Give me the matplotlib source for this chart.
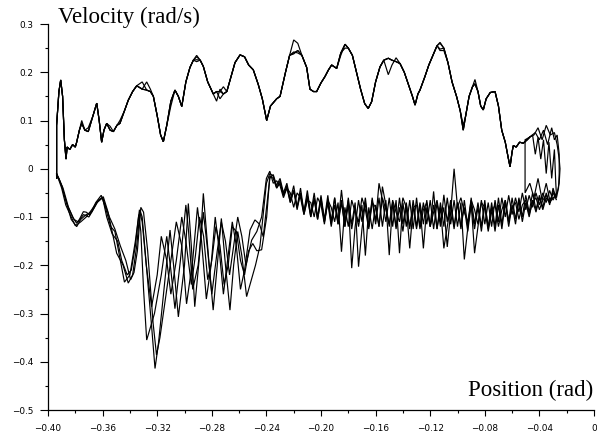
import matplotlib
matplotlib.use("Agg")
import matplotlib.pyplot as plt

# ---------------- data ----------------
x_ticks = [-0.40, -0.36, -0.32, -0.28, -0.24, -0.20, -0.16, -0.12, -0.08, -0.04, 0.0]
x_tick_labels = ["\u22120.40", "\u22120.36", "\u22120.32", "\u22120.28", "\u22120.24", "\u22120.20",
                 "\u22120.16", "\u22120.12", "\u22120.08", "\u22120.04", "0"]
x_minor = [-0.38, -0.34, -0.30, -0.26, -0.22, -0.18, -0.14, -0.10, -0.06, -0.02]
y_ticks = [-0.5, -0.4, -0.3, -0.2, -0.1, 0.0, 0.1, 0.2, 0.3]
y_tick_labels = ["\u22120.5", "\u22120.4", "\u22120.3", "\u22120.2", "\u22120.1", "0", "0.1", "0.2", "0.3"]
y_minor = [-0.45, -0.35, -0.25, -0.15, -0.05, 0.05, 0.15, 0.25]

# upper branch (shared positions, common velocity path)
upper_x = [-0.3937, -0.3937, -0.3920, -0.3907, -0.3893, -0.3880, -0.3868, -0.3860, -0.3840, -0.3820,
           -0.3800, -0.3790, -0.3770, -0.3753, -0.3730, -0.3705, -0.3670, -0.3643, -0.3625, -0.3607,
           -0.3590, -0.3570, -0.3545, -0.3521, -0.3495, -0.3473, -0.3440, -0.3412, -0.3380, -0.3350,
           -0.3310, -0.3277, -0.3250, -0.3228, -0.3200, -0.3175, -0.3155, -0.3130, -0.3100, -0.3070,
           -0.3045, -0.3020, -0.2990, -0.2960, -0.2935, -0.2911, -0.2885, -0.2862, -0.2830, -0.2789,
           -0.2765, -0.2740, -0.2715, -0.2690, -0.2660, -0.2630, -0.2593, -0.2560, -0.2530, -0.2496,
           -0.2460, -0.2430, -0.2398, -0.2370, -0.2325, -0.2300, -0.2260, -0.2230, -0.2200, -0.2170,
           -0.2140, -0.2105, -0.2081, -0.2055, -0.2032, -0.2000, -0.1971, -0.1945, -0.1922, -0.1885,
           -0.1855, -0.1824, -0.1800, -0.1770, -0.1740, -0.1710, -0.1680, -0.1654, -0.1629, -0.1600,
           -0.1568, -0.1540, -0.1507, -0.1480, -0.1450, -0.1421, -0.1390, -0.1360, -0.1330, -0.1311,
           -0.1290, -0.1275, -0.1240, -0.1210, -0.1177, -0.1150, -0.1128, -0.1100, -0.1070, -0.1040,
           -0.1006, -0.0980, -0.0958, -0.0940, -0.0915, -0.0890, -0.0872, -0.0850, -0.0830, -0.0811,
           -0.0790, -0.0760, -0.0725, -0.0700, -0.0676, -0.0650, -0.0630, -0.0615, -0.0600, -0.0591,
           -0.0570, -0.0545, -0.0518, -0.0490, -0.0469]
upper_v = [-0.02, 0.09, 0.16, 0.184, 0.15, 0.06, 0.02, 0.045, 0.04, 0.05,
           0.045, 0.055, 0.08, 0.094, 0.08, 0.077, 0.11, 0.136, 0.10, 0.055,
           0.08, 0.094, 0.08, 0.077, 0.09, 0.094, 0.12, 0.142, 0.16, 0.172,
           0.165, 0.163, 0.16, 0.15, 0.11, 0.07, 0.056, 0.09, 0.14, 0.163,
           0.15, 0.129, 0.18, 0.21, 0.225, 0.232, 0.225, 0.212, 0.18, 0.155,
           0.16, 0.16, 0.155, 0.16, 0.19, 0.22, 0.236, 0.232, 0.215, 0.205,
           0.175, 0.145, 0.10, 0.13, 0.145, 0.15, 0.20, 0.235, 0.245, 0.245,
           0.235, 0.21, 0.165, 0.16, 0.16, 0.178, 0.191, 0.205, 0.215, 0.208,
           0.24, 0.258, 0.25, 0.235, 0.20, 0.165, 0.135, 0.125, 0.139, 0.18,
           0.211, 0.225, 0.229, 0.225, 0.222, 0.218, 0.20, 0.175, 0.15, 0.132,
           0.155, 0.163, 0.19, 0.215, 0.237, 0.255, 0.26, 0.25, 0.22, 0.18,
           0.149, 0.12, 0.08, 0.11, 0.15, 0.17, 0.176, 0.16, 0.13, 0.122,
           0.145, 0.158, 0.16, 0.13, 0.08, 0.055, 0.025, 0.004, 0.035, 0.048,
           0.045, 0.055, 0.053, 0.06, 0.066]

# where individual runs leave the common upper path
upper_t1 = {-0.2200: 0.267, -0.2170: 0.26, -0.1128: 0.262, -0.2911: 0.235, -0.3277: 0.18, -0.3250: 0.165,
            -0.3705: 0.085, -0.3473: 0.10}
upper_t2 = {-0.1507: 0.195, -0.1480: 0.215, -0.1450: 0.23, -0.2200: 0.238, -0.1128: 0.245,
            -0.1100: 0.245, -0.3310: 0.18, -0.2765: 0.14, -0.2740: 0.165, -0.3753: 0.10}
upper_t3 = {-0.2200: 0.24, -0.1128: 0.248, -0.1824: 0.25, -0.2911: 0.222, -0.3100: 0.13,
            -0.0872: 0.185, -0.2715: 0.17, -0.3545: 0.088}
upper_t4 = {-0.2200: 0.242, -0.2170: 0.24, -0.2911: 0.226, -0.2740: 0.145, -0.1855: 0.235, -0.0958: 0.09}

# right-hand turnaround (per run)
blob_x1 = [-0.044, -0.041, -0.038, -0.035, -0.032, -0.029, -0.027, -0.0255, -0.0249, -0.0255, -0.027]
blob_v1 = [0.07, 0.085, 0.06, 0.09, 0.07, 0.075, 0.05, 0.02, 0.0, -0.03, -0.05]
blob_x2 = [-0.043, -0.040, -0.037, -0.034, -0.031, -0.029, -0.027, -0.0255, -0.0255, -0.026, -0.0275]
blob_v2 = [0.075, 0.06, 0.08, 0.05, 0.085, 0.06, 0.07, 0.03, -0.01, -0.04, -0.06]
blob_x3 = [-0.045, -0.043, -0.041, -0.039, -0.037, -0.035, -0.033, -0.031, -0.029, -0.028, -0.0275]
blob_v3 = [0.07, 0.03, 0.065, 0.02, 0.06, -0.01, 0.055, -0.02, 0.04, -0.03, -0.055]
blob_x4 = [-0.0505, -0.0505, -0.047, -0.044, -0.041, -0.038, -0.035, -0.032, -0.030, -0.0275]
blob_v4 = [0.06, -0.05, -0.03, -0.06, -0.02, -0.065, -0.03, -0.07, -0.04, -0.065]

# lower branch, noisy right part (shared positions)
lower_x = [-0.0275, -0.0300, -0.0325, -0.0350, -0.0375, -0.0400, -0.0425, -0.0450, -0.0475, -0.0500,
           -0.0525, -0.0550, -0.0575, -0.0600, -0.0625, -0.0650, -0.0675, -0.0700, -0.0725, -0.0750,
           -0.0775, -0.0800, -0.0825, -0.0850, -0.0875, -0.0900, -0.0925, -0.0950, -0.0975, -0.1000,
           -0.1025, -0.1050, -0.1075, -0.1100, -0.1125, -0.1150, -0.1175, -0.1200, -0.1225, -0.1250,
           -0.1275, -0.1300, -0.1325, -0.1350, -0.1375, -0.1400, -0.1425, -0.1450, -0.1475, -0.1500,
           -0.1525, -0.1550, -0.1575, -0.1600, -0.1625, -0.1650, -0.1675, -0.1700, -0.1725, -0.1750,
           -0.1775, -0.1800, -0.1825, -0.1850, -0.1875, -0.1900, -0.1925, -0.1950, -0.1975, -0.2000,
           -0.2025, -0.2050, -0.2075, -0.2100, -0.2125, -0.2150, -0.2175, -0.2200, -0.2225, -0.2250,
           -0.2275, -0.2300, -0.2325, -0.2350, -0.2375]
lower_v1 = [-0.05, -0.065, -0.045, -0.07, -0.05, -0.075, -0.05, -0.08, -0.055, -0.085,
            -0.05, -0.09, -0.06, -0.095, -0.055, -0.10, -0.06, -0.11, -0.065, -0.12,
            -0.07, -0.115, -0.065, -0.12, -0.175, -0.07, -0.12, -0.065, -0.125, -0.07,
            -0.12, -0.065, -0.11, -0.054, -0.12, -0.07, -0.125, -0.065, -0.115, -0.07,
            -0.12, -0.06, -0.125, -0.065, -0.12, -0.07, -0.175, -0.065, -0.12, -0.06,
            -0.11, -0.065, -0.03, -0.11, -0.06, -0.12, -0.07, -0.125, -0.203, -0.07,
            -0.115, -0.06, -0.12, -0.065, -0.11, -0.06, -0.115, -0.065, -0.11, -0.06,
            -0.105, -0.065, -0.10, -0.06, -0.095, -0.05, -0.085, -0.045, -0.07, -0.035,
            -0.055, -0.025, -0.04, -0.015, -0.01]
lower_v2 = [-0.06, -0.045, -0.075, -0.05, -0.08, -0.055, -0.085, -0.05, -0.09, -0.055,
            -0.10, -0.06, -0.105, -0.06, -0.11, -0.065, -0.115, -0.06, -0.12, -0.07,
            -0.125, -0.065, -0.12, -0.07, -0.115, -0.06, -0.125, -0.188, -0.07, -0.12,
            -0.065, -0.115, -0.06, -0.12, -0.07, -0.125, -0.047, -0.12, -0.065, -0.115,
            -0.07, -0.12, -0.065, -0.125, -0.07, -0.115, -0.06, -0.12, -0.07, -0.179,
            -0.065, -0.12, -0.06, -0.115, -0.065, -0.12, -0.06, -0.11, -0.065, -0.12,
            -0.206, -0.065, -0.11, -0.044, -0.115, -0.06, -0.11, -0.055, -0.105, -0.055,
            -0.10, -0.05, -0.095, -0.045, -0.09, -0.04, -0.08, -0.035, -0.065, -0.03,
            -0.05, -0.02, -0.035, -0.012, -0.02]
lower_v3 = [-0.055, -0.06, -0.07, -0.055, -0.065, -0.085, -0.06, -0.07, -0.095, -0.065,
            -0.075, -0.105, -0.07, -0.08, -0.11, -0.065, -0.085, -0.12, -0.075, -0.09,
            -0.13, -0.08, -0.07, -0.115, -0.085, -0.065, -0.11, -0.09, -0.06, -0.08,
            0.0, -0.09, -0.162, -0.08, -0.11, -0.065, -0.09, -0.12, -0.07, -0.085,
            -0.125, -0.075, -0.08, -0.165, -0.08, -0.06, -0.11, -0.09, -0.065, -0.115,
            -0.085, -0.06, -0.12, -0.08, -0.07, -0.125, -0.085, -0.06, -0.11, -0.09,
            -0.065, -0.12, -0.08, -0.172, -0.07, -0.11, -0.08, -0.065, -0.115, -0.075,
            -0.06, -0.10, -0.07, -0.065, -0.095, -0.06, -0.05, -0.08, -0.05, -0.04,
            -0.06, -0.035, -0.025, -0.03, -0.005]
lower_v4 = [-0.065, -0.05, -0.07, -0.06, -0.085, -0.06, -0.09, -0.065, -0.10, -0.07,
            -0.11, -0.065, -0.115, -0.075, -0.12, -0.07, -0.125, -0.075, -0.13, -0.08,
            -0.12, -0.075, -0.13, -0.08, -0.125, -0.075, -0.13, -0.08, -0.12, -0.07,
            -0.125, -0.075, -0.12, -0.165, -0.08, -0.125, -0.075, -0.12, -0.08, -0.165,
            -0.075, -0.125, -0.08, -0.12, -0.075, -0.13, -0.08, -0.125, -0.07, -0.12,
            -0.075, -0.037, -0.12, -0.075, -0.125, -0.08, -0.18, -0.075, -0.12, -0.08,
            -0.125, -0.075, -0.12, -0.07, -0.115, -0.075, -0.12, -0.07, -0.11, -0.065,
            -0.105, -0.06, -0.10, -0.055, -0.09, -0.05, -0.08, -0.045, -0.07, -0.04,
            -0.055, -0.03, -0.04, -0.02, -0.015]

# lower branch, left part (per run)
left_x1 = [-0.2400, -0.2447, -0.2480, -0.2520, -0.2545, -0.2580, -0.2610, -0.2640, -0.2667, -0.2700,
           -0.2730, -0.2760, -0.2790, -0.2825, -0.2862, -0.2890, -0.2925, -0.2950, -0.2972, -0.3000,
           -0.3045, -0.3080, -0.3106, -0.3150, -0.3190, -0.3216, -0.3240, -0.3280, -0.3310, -0.3326,
           -0.3350, -0.3380, -0.3412, -0.3450, -0.3497, -0.3530, -0.3560, -0.3595, -0.3630, -0.3660,
           -0.3692, -0.3720, -0.3741, -0.3770, -0.3790, -0.3820, -0.3863, -0.3900, -0.3920, -0.3937]
left_v1 = [-0.03, -0.16, -0.20, -0.24, -0.265, -0.18, -0.13, -0.20, -0.293, -0.20,
           -0.103, -0.20, -0.293, -0.18, -0.051, -0.18, -0.286, -0.16, -0.072, -0.20,
           -0.307, -0.20, -0.127, -0.25, -0.36, -0.414, -0.33, -0.20, -0.10, -0.086,
           -0.16, -0.22, -0.237, -0.20, -0.175, -0.13, -0.09, -0.058, -0.065, -0.08,
           -0.096, -0.09, -0.089, -0.105, -0.113, -0.10, -0.072, -0.035, -0.02, -0.012]
left_x2 = [-0.2423, -0.2450, -0.2484, -0.2520, -0.2560, -0.2590, -0.2620, -0.2650, -0.2685, -0.2715,
           -0.2745, -0.2775, -0.2805, -0.2840, -0.2875, -0.2905, -0.2940, -0.2985, -0.3020, -0.3060,
           -0.3100, -0.3140, -0.3180, -0.3205, -0.3230, -0.3270, -0.3300, -0.3320, -0.3345, -0.3370,
           -0.3395, -0.3430, -0.3470, -0.3510, -0.3550, -0.3600, -0.3640, -0.3680, -0.3720, -0.3760,
           -0.3800, -0.3830, -0.3870, -0.3900, -0.3925, -0.3937]
left_v2 = [-0.141, -0.115, -0.106, -0.127, -0.21, -0.25, -0.16, -0.11, -0.19, -0.26,
           -0.17, -0.10, -0.20, -0.27, -0.15, -0.08, -0.19, -0.28, -0.16, -0.11,
           -0.19, -0.27, -0.35, -0.386, -0.32, -0.17, -0.09, -0.08, -0.17, -0.215,
           -0.23, -0.19, -0.16, -0.125, -0.10, -0.06, -0.068, -0.085, -0.10, -0.11,
           -0.118, -0.10, -0.075, -0.04, -0.02, -0.015]
left_x3 = [-0.2400, -0.2435, -0.2470, -0.2508, -0.2550, -0.2580, -0.2610, -0.2640, -0.2670, -0.2700,
           -0.2730, -0.2760, -0.2800, -0.2830, -0.2862, -0.2900, -0.2940, -0.2970, -0.2990, -0.3030,
           -0.3070, -0.3100, -0.3130, -0.3170, -0.3220, -0.3277, -0.3300, -0.3320, -0.3335, -0.3360,
           -0.3390, -0.3420, -0.3460, -0.3490, -0.3530, -0.3570, -0.3600, -0.3640, -0.3680, -0.3720,
           -0.3760, -0.3790, -0.3830, -0.3865, -0.3900, -0.3937]
left_v3 = [-0.02, -0.10, -0.13, -0.148, -0.20, -0.14, -0.10, -0.16, -0.22, -0.15,
           -0.11, -0.17, -0.26, -0.17, -0.09, -0.20, -0.25, -0.13, -0.075, -0.19,
           -0.29, -0.21, -0.14, -0.22, -0.30, -0.355, -0.25, -0.13, -0.095, -0.16,
           -0.21, -0.22, -0.19, -0.15, -0.135, -0.10, -0.06, -0.07, -0.09, -0.095,
           -0.105, -0.12, -0.105, -0.07, -0.035, -0.01]
left_x4 = [-0.2398, -0.2435, -0.2470, -0.2500, -0.2530, -0.2560, -0.2590, -0.2620, -0.2650, -0.2680,
           -0.2710, -0.2740, -0.2770, -0.2800, -0.2830, -0.2860, -0.2890, -0.2920, -0.2950, -0.2990,
           -0.3020, -0.3060, -0.3100, -0.3130, -0.3170, -0.3200, -0.3241, -0.3280, -0.3310, -0.3330,
           -0.3360, -0.3400, -0.3440, -0.3470, -0.3510, -0.3540, -0.3580, -0.3610, -0.3650, -0.3700,
           -0.3740, -0.3780, -0.3810, -0.3850, -0.3890, -0.3937]
left_v4 = [-0.10, -0.168, -0.17, -0.155, -0.17, -0.22, -0.19, -0.13, -0.12, -0.20,
           -0.24, -0.16, -0.12, -0.19, -0.23, -0.14, -0.10, -0.18, -0.24, -0.15,
           -0.10, -0.19, -0.26, -0.19, -0.14, -0.22, -0.286, -0.20, -0.11, -0.085,
           -0.15, -0.22, -0.235, -0.19, -0.13, -0.12, -0.08, -0.055, -0.07, -0.10,
           -0.095, -0.11, -0.105, -0.08, -0.04, -0.01]

runs = [
    (upper_t1, blob_x1, blob_v1, lower_v1, left_x1, left_v1),
    (upper_t2, blob_x2, blob_v2, lower_v2, left_x2, left_v2),
    (upper_t3, blob_x3, blob_v3, lower_v3, left_x3, left_v3),
    (upper_t4, blob_x4, blob_v4, lower_v4, left_x4, left_v4),
]

# ---------------- figure ----------------
W, H = 597, 434
fig = plt.figure(figsize=(W / 100, H / 100), dpi=100)
ax = fig.add_axes([48 / W, (H - 410) / H, 546 / W, 386 / H])

for over, bx, bv, lv, lx2, lv2 in runs:
    uv = list(upper_v)
    for xk, vk in over.items():
        uv[upper_x.index(xk)] = vk
    xs = list(upper_x) + bx + lower_x + lx2
    vs = uv + bv + lv + lv2
    ax.plot(xs, vs, color="black", lw=0.85, solid_joinstyle="miter")

ax.set_xlim(-0.40, 0.0)
ax.set_ylim(-0.5, 0.3)
for s in ("top", "right"):
    ax.spines[s].set_visible(False)
for s in ("left", "bottom"):
    ax.spines[s].set_linewidth(0.9)

ax.set_xticks(x_ticks)
ax.set_xticklabels(x_tick_labels)
ax.set_xticks(x_minor, minor=True)
ax.set_yticks(y_ticks)
ax.set_yticklabels(y_tick_labels)
ax.set_yticks(y_minor, minor=True)
ax.tick_params(axis="x", which="major", length=4.3, width=0.8, labelsize=6.4, pad=6)
ax.tick_params(axis="x", which="minor", length=2.2, width=0.8)
ax.tick_params(axis="y", which="major", length=5.8, width=0.8, labelsize=6.4, pad=5)
ax.tick_params(axis="y", which="minor", length=2.2, width=0.8)

fig.text(58 / W, 1 - 7 / H, "Velocity (rad/s)", family="Liberation Serif", fontsize=16.5,
         ha="left", va="top")
fig.text(593 / W, 1 - 396 / H, "Position (rad)", family="Liberation Serif", fontsize=16.5,
         ha="right", va="baseline")

fig.savefig("out.png", dpi=100)
